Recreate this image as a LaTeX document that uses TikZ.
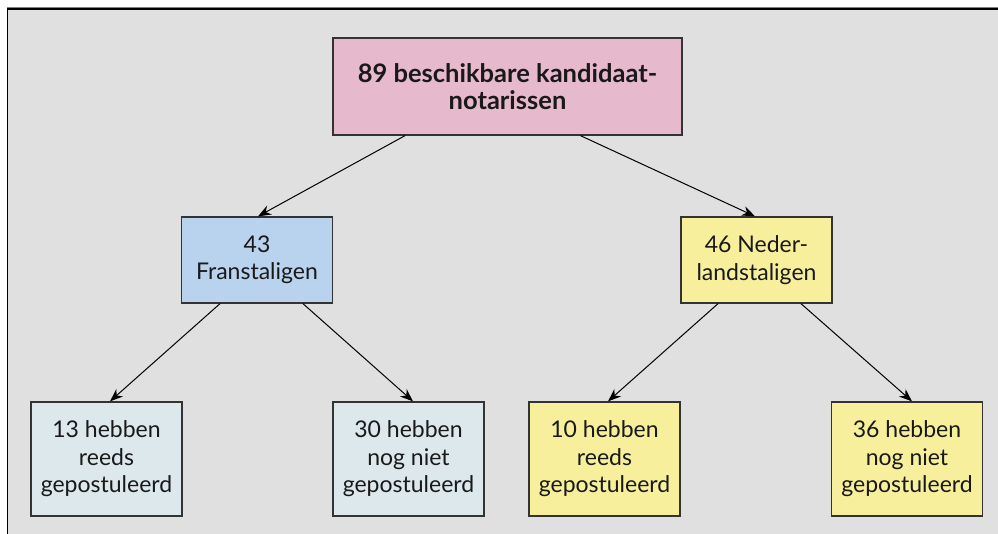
\documentclass[tikz,border=0pt]{standalone}
\usepackage{fontspec}
\setmainfont{Lato}
\usetikzlibrary{arrows.meta,calc}
\definecolor{bgc}{HTML}{E0E0E0}
\definecolor{pinkc}{HTML}{E6B9CC}
\definecolor{bluec}{HTML}{B9D3EF}
\definecolor{yelc}{HTML}{F7EF9B}
\definecolor{cyanc}{HTML}{DCE8EC}
\definecolor{edgec}{HTML}{333333}
\tikzset{
  box/.style={draw=edgec, line width=1.3pt, inner sep=0pt, minimum width=151pt,
    align=center, font=\fontsize{23}{27.5}\selectfont, text=black!90},
  conn/.style={draw=black, line width=1pt, -{Stealth[length=13pt,width=10pt]}}
}
\begin{document}
\begin{tikzpicture}[x=1pt,y=-1pt]
\useasboundingbox (0,0) rectangle (998,533);
\fill[bgc] (7.5,8.5) rectangle (1000,540);
\draw[gray, line width=1pt] (7,7.8) -- (1000,7.8);
\draw[black, line width=1.3pt] (1000,9) -- (7.5,9) -- (7.5,540);
\node[box, fill=pinkc, minimum width=349pt, minimum height=97pt,
  font=\fontsize{25.5}{27}\selectfont\bfseries] (top) at (507.5,86.5)
  {89 beschikbare kandidaat-\\notarissen};
\node[box, fill=bluec, minimum height=86pt] (fr) at (257,260) {43\\Franstaligen};
\node[box, fill=yelc, minimum height=86pt] (nl) at (756.5,260) {46 Neder-\\landstaligen};
\node[box, fill=cyanc, minimum height=114pt] (fr1) at (106.5,459) {13 hebben\\reeds\\gepostuleerd};
\node[box, fill=cyanc, minimum height=114pt] (fr2) at (408.5,459) {30 hebben\\nog niet\\gepostuleerd};
\node[box, fill=yelc, minimum height=114pt] (nl1) at (604.5,459) {10 hebben\\reeds\\gepostuleerd};
\node[box, fill=yelc, minimum height=114pt] (nl2) at (907,459) {36 hebben\\nog niet\\gepostuleerd};
\draw[conn] ([xshift=-102.5pt]top.south) -- ([xshift=1pt]fr.north);
\draw[conn] ([xshift=73pt]top.south) -- ([xshift=-1.5pt]nl.north);
\draw[conn] ([xshift=-37pt]fr.south) -- ([xshift=3.5pt]fr1.north);
\draw[conn] ([xshift=46pt]fr.south) -- ([xshift=4.5pt]fr2.north);
\draw[conn] ([xshift=-38.5pt]nl.south) -- ([xshift=3.5pt]nl1.north);
\draw[conn] ([xshift=44.5pt]nl.south) -- ([xshift=5pt]nl2.north);
\end{tikzpicture}
\end{document}
